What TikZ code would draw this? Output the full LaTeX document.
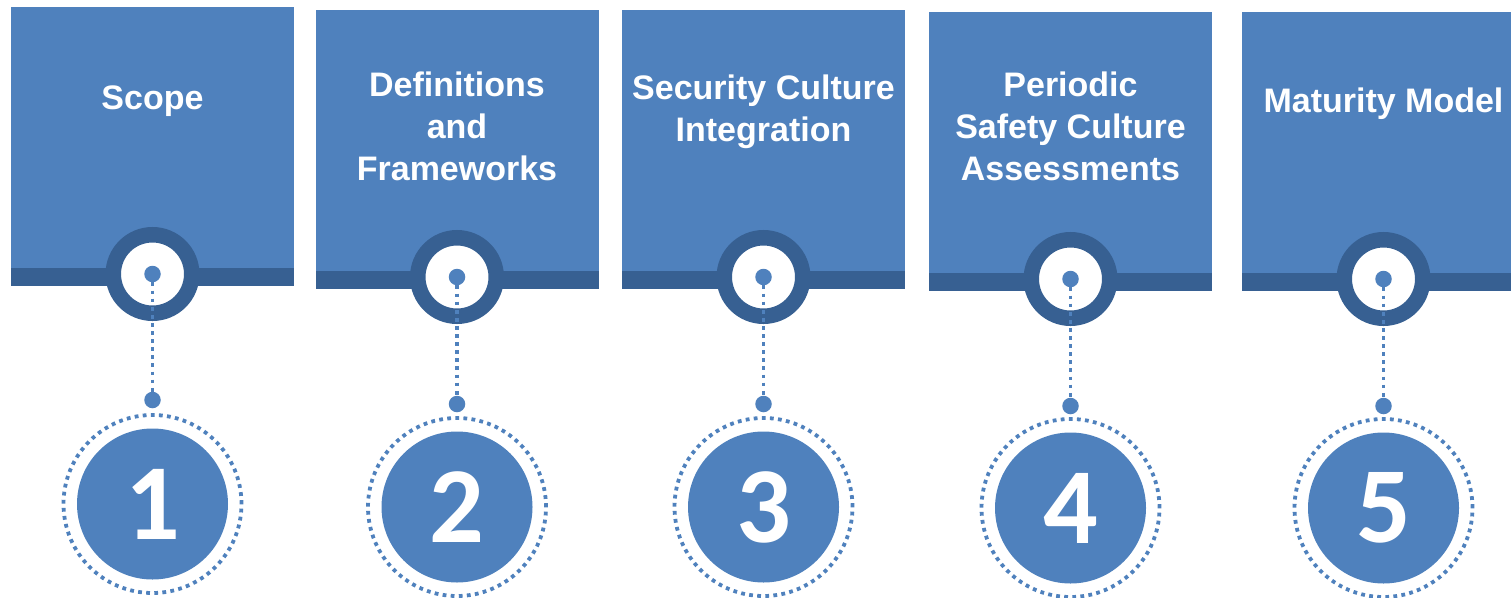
\documentclass[tikz,border=0pt]{standalone}
\usepackage{fontspec}
\setmainfont{Liberation Sans}
\newfontfamily\digitfont{Carlito Bold}
\usepackage{xcolor}
\usepackage{tikz}
\usetikzlibrary{positioning}
\definecolor{stepblue}{HTML}{4F81BD}
\definecolor{stepdark}{HTML}{376092}

\begin{document}
\begin{tikzpicture}[
        x=1pt, y=-1pt,
        panel/.style={fill=stepblue, anchor=north, inner sep=0pt, minimum width=283pt, minimum height=261pt},
        band/.style={fill=stepdark, anchor=north, inner sep=0pt, minimum width=283pt, minimum height=18pt},
        title/.style={anchor=north, inner sep=0pt, align=center, text=white, font=\bfseries\fontsize{34}{42}\selectfont},
        ring/.style={circle, fill=white, draw=stepdark, line width=15.5pt, minimum size=78.5pt, inner sep=0pt},
        pin/.style={circle, fill=stepblue, inner sep=0pt, minimum size=16.5pt},
        disc/.style={circle, fill=stepblue, inner sep=0pt, minimum size=151pt, text=white, font=\digitfont\fontsize{108}{108}\selectfont},
        halo/.style={circle, draw=stepblue, line width=3.8pt, dash pattern=on 3.8pt off 4.3pt, minimum size=178pt, inner sep=0pt},
        leader/.style={draw=stepblue, line width=3.8pt, dash pattern=on 3.8pt off 4.3pt}
      ]
      \useasboundingbox (0,0) rectangle (1511,597);
      \clip (0,0) rectangle (1511,597);

      \node[panel] (panel1) at (152.5,7)   {};
      \node[panel] (panel2) at (457,10)    {};
      \node[panel] (panel3) at (763.5,10)  {};
      \node[panel] (panel4) at (1070.5,12) {};
      \node[panel] (panel5) at (1383.5,12) {};

      \node[band] (band1) at (152.5,268)  {};
      \node[band] (band2) at (457,271)    {};
      \node[band] (band3) at (763.5,271)  {};
      \node[band] (band4) at (1070.5,273) {};
      \node[band] (band5) at (1383.5,273) {};

      \node[title] (title1) at (152.5,86)  {Scope};
      \node[title] (title2) at (457,72)    {Definitions\\and\\Frameworks};
      \node[title] (title3) at (763.5,75)  {Security Culture\\Integration};
      \node[title] (title4) at (1070.5,72) {Periodic\\Safety Culture\\Assessments};
      \node[title] (title5) at (1383.5,88) {Maturity Model};

      \node[ring] (ring1) at (152.5,274)  {};
      \node[ring] (ring2) at (457,277)    {};
      \node[ring] (ring3) at (763.5,277)  {};
      \node[ring] (ring4) at (1070.5,279) {};
      \node[ring] (ring5) at (1383.5,279) {};

      \node[pin] (pin1) at (ring1.center) {};
      \node[pin] (pin2) at (ring2.center) {};
      \node[pin] (pin3) at (ring3.center) {};
      \node[pin] (pin4) at (ring4.center) {};
      \node[pin] (pin5) at (ring5.center) {};

      \node[pin] (drop1) at (152.5,400)  {};
      \node[pin] (drop2) at (457,404)    {};
      \node[pin] (drop3) at (763.5,404)  {};
      \node[pin] (drop4) at (1070.5,406) {};
      \node[pin] (drop5) at (1383.5,406) {};

      \draw[leader] (pin1) -- (drop1);
      \draw[leader] (pin2) -- (drop2);
      \draw[leader] (pin3) -- (drop3);
      \draw[leader] (pin4) -- (drop4);
      \draw[leader] (pin5) -- (drop5);

      \node[disc] (num1) at (152.5,504)  {1};
      \node[disc] (num2) at (457,507)    {2};
      \node[disc] (num3) at (763.5,507)  {3};
      \node[disc] (num4) at (1070.5,508) {4};
      \node[disc] (num5) at (1383.5,508) {5};

      \node[halo] (halo1) at (num1.center) {};
      \node[halo] (halo2) at (num2.center) {};
      \node[halo] (halo3) at (num3.center) {};
      \node[halo] (halo4) at (num4.center) {};
      \node[halo] (halo5) at (num5.center) {};
    \end{tikzpicture}
\end{document}
